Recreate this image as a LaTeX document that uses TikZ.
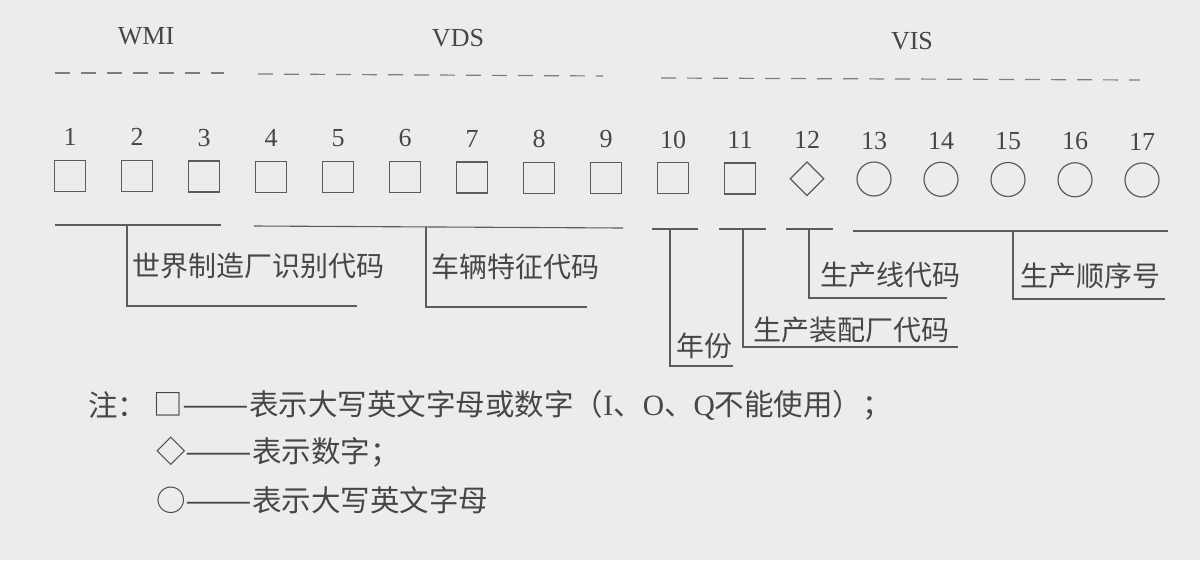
\documentclass[tikz,border=0pt]{standalone}
\usepackage{fontspec}
\setmainfont{Liberation Serif}
\newfontfamily\cjk{Noto Sans CJK SC}
\usetikzlibrary{shapes.geometric}
\definecolor{bg}{RGB}{236,236,236}
\definecolor{ink}{RGB}{70,70,70}
\definecolor{lineink}{RGB}{92,92,92}
\definecolor{dashink}{RGB}{125,125,125}
\newcommand\longdash{\scalebox{1.35}[1]{——}}
\begin{document}
\begin{tikzpicture}[x=1pt,y=-1pt,
  sq/.style={draw=lineink, line width=1.2pt, rectangle, minimum size=31pt, inner sep=0pt},
  circ/.style={draw=lineink, line width=1.2pt, circle, minimum size=34pt, inner sep=0pt},
  dia/.style={draw=lineink, line width=1.2pt, diamond, minimum size=34pt, inner sep=0pt},
  num/.style={font=\fontsize{26}{28}\selectfont, text=ink, inner sep=0pt},
  hdr/.style={font=\fontsize{26}{28}\selectfont, text=ink, inner sep=0pt},
  lbl/.style={font=\cjk\fontsize{28}{30}\selectfont, text=ink, inner sep=0pt, anchor=west},
  note/.style={font=\cjk\fontsize{29.5}{31}\selectfont, text=ink, inner sep=0pt, anchor=west},
  brk/.style={draw=lineink, line width=1.1pt},
  dsh/.style={draw=dashink, line width=1.2pt, dash pattern=on 15pt off 11pt}
]
\fill[bg] (0,0) rectangle (1200,560);
\useasboundingbox (0,0) rectangle (1200,560);

% headers
\node[hdr] (wmi) at (146,36) {WMI};
\node[hdr] (vds) at (458,38) {VDS};
\node[hdr] (vis) at (912,41) {VIS};

% dashed range lines
\coordinate (dw1) at (55,73);  \coordinate (dw2) at (224,73);
\coordinate (dv1) at (258,74); \coordinate (dv2) at (603,76);
\coordinate (ds1) at (661,78); \coordinate (ds2) at (1140,80);
\draw[dsh] (dw1) -- (dw2);
\draw[dsh] (dv1) -- (dv2);
\draw[dsh] (ds1) -- (ds2);

% numbers and symbols
\foreach \i in {1,...,17} {
  \pgfmathsetmacro\xx{70+(\i-1)*67}
  \pgfmathsetmacro\yn{137+(\i-1)*0.3}
  \pgfmathsetmacro\ys{176+(\i-1)*0.25}
  \node[num] (n\i) at (\xx,\yn) {\i};
  \ifnum\i<12
    \node[sq] (s\i) at (\xx,\ys) {};
  \else\ifnum\i=12
    \node[dia] (s\i) at (\xx,\ys) {};
  \else
    \node[circ] (s\i) at (\xx,\ys) {};
  \fi\fi
}

% bracket: WMI
\coordinate (a1) at (55,225);  \coordinate (a2) at (221,225);
\coordinate (a3) at (127,225); \coordinate (a4) at (127,306); \coordinate (a5) at (357,306);
\draw[brk] (a1) -- (a2);
\draw[brk] (a3) -- (a4) -- (a5);
\node[lbl] (lwmi) at (132,266) {世界制造厂识别代码};

% bracket: VDS
\coordinate (b1) at (254,226); \coordinate (b2) at (623,228);
\coordinate (b3) at (426,227); \coordinate (b4) at (426,307); \coordinate (b5) at (587,307);
\draw[brk] (b1) -- (b2);
\draw[brk] (b3) -- (b4) -- (b5);
\node[lbl] (lvds) at (431,267) {车辆特征代码};

% bracket: 10 year
\coordinate (c1) at (652,229); \coordinate (c2) at (698,229);
\coordinate (c3) at (670,229); \coordinate (c4) at (670,366); \coordinate (c5) at (733,366);
\draw[brk] (c1) -- (c2);
\draw[brk] (c3) -- (c4) -- (c5);
\node[lbl] (lyear) at (676,346) {年份};

% bracket: 11 plant
\coordinate (d1) at (719,229); \coordinate (d2) at (766,229);
\coordinate (d3) at (743,229); \coordinate (d4) at (743,347); \coordinate (d5) at (958,347);
\draw[brk] (d1) -- (d2);
\draw[brk] (d3) -- (d4) -- (d5);
\node[lbl] (lplant) at (753,330) {生产装配厂代码};

% bracket: 12 line
\coordinate (e1) at (786,229); \coordinate (e2) at (833,229);
\coordinate (e3) at (809,229); \coordinate (e4) at (809,298); \coordinate (e5) at (947,298);
\draw[brk] (e1) -- (e2);
\draw[brk] (e3) -- (e4) -- (e5);
\node[lbl] (lline) at (820,275) {生产线代码};

% bracket: 13-17 sequence
\coordinate (f1) at (853,231); \coordinate (f2) at (1168,231);
\coordinate (f3) at (1013,231); \coordinate (f4) at (1013,299); \coordinate (f5) at (1165,299);
\draw[brk] (f1) -- (f2);
\draw[brk] (f3) -- (f4) -- (f5);
\node[lbl] (lseq) at (1020,276) {生产顺序号};

% notes
\node[note] (nz) at (88,405) {注：};
\node[note] (n1l) at (153,405) {□\longdash 表示大写英文字母或数字（{\rmfamily I}、{\rmfamily O}、{\rmfamily Q}不能使用）；};
\node[note] (n2l) at (156,452) {◇\longdash 表示数字；};
\node[note] (n3l) at (156,500) {○\longdash 表示大写英文字母};
\end{tikzpicture}
\end{document}
